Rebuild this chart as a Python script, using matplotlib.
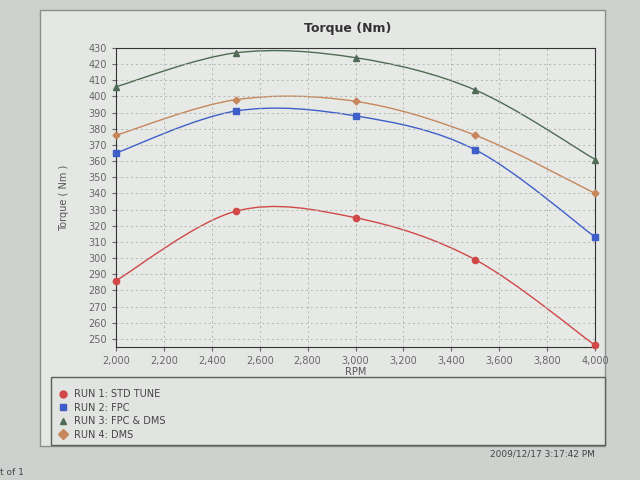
import numpy as np
import matplotlib
matplotlib.use('Agg')
import matplotlib.pyplot as plt
from matplotlib.path import Path
from matplotlib.patches import PathPatch, Rectangle
from matplotlib.lines import Line2D

rpm = [2000, 2500, 3000, 3500, 4000]
run1 = [286, 329, 325, 299, 246]
run2 = [365, 391, 388, 367, 313]
run3 = [406, 427, 424, 404, 361]
run4 = [376, 398, 397, 376, 340]
names = ['RUN 1: STD TUNE', 'RUN 2: FPC', 'RUN 3: FPC & DMS', 'RUN 4: DMS']
colors = ['#d04848', '#3f5fc8', '#4f6a55', '#c7865c']
markers = ['o', 's', '^', 'D']


def smooth_path(x, y):
    # catmull-rom style bezier through the points
    x = np.asarray(x, float)
    y = np.asarray(y, float)
    verts = [(x[0], y[0])]
    codes = [Path.MOVETO]
    n = len(x)
    for i in range(n - 1):
        x0, y0 = (x[i - 1], y[i - 1]) if i > 0 else (x[i], y[i])
        x3, y3 = (x[i + 2], y[i + 2]) if i + 2 < n else (x[i + 1], y[i + 1])
        c1 = (x[i] + (x[i + 1] - x0) / 6, y[i] + (y[i + 1] - y0) / 6)
        c2 = (x[i + 1] - (x3 - x[i]) / 6, y[i + 1] - (y3 - y[i]) / 6)
        verts += [c1, c2, (x[i + 1], y[i + 1])]
        codes += [Path.CURVE4] * 3
    return Path(verts, codes)


fig = plt.figure(figsize=(6.4, 4.8), dpi=100)
fig.patch.set_facecolor('#cdd2cf')
fig.patches.append(Rectangle((0.062, 0.07), 0.884, 0.91, transform=fig.transFigure,
                             facecolor='#e4e7e4', edgecolor='#8a8f8c', lw=1, zorder=-10))
fig.patches.append(Rectangle((0.08, 0.072), 0.866, 0.143, transform=fig.transFigure,
                             facecolor='#e1e4e1', edgecolor='#5a5f5c', lw=1, zorder=-9))

ax = fig.add_axes([0.181, 0.277, 0.749, 0.623])
ax.set_facecolor('#e6e9e6')
for xs, ys, c, m, lab in zip([rpm] * 4, [run1, run2, run3, run4], colors, markers, names):
    ax.add_patch(PathPatch(smooth_path(xs, ys), facecolor='none', edgecolor=c, lw=1))
    ax.plot(xs, ys, ls='none', marker=m, color=c, ms=4.5 if m != 'D' else 3.5, label=lab,
            clip_on=False, zorder=3)

ax.set_xlim(2000, 4000)
ax.set_ylim(245, 430)
ax.set_xticks(range(2000, 4001, 200))
ax.set_xticklabels([f'{v:,}' for v in range(2000, 4001, 200)])
ax.set_yticks(range(250, 431, 10))
ax.tick_params(labelsize=7, colors='#666666', length=3)
ax.grid(True, ls=(0, (2, 3)), color='#b4b8b5', lw=0.7)
for s in ax.spines.values():
    s.set_color('#333333')
ax.set_xlabel('RPM', fontsize=7, color='#555555', labelpad=1)
ax.set_ylabel('Torque ( Nm )', fontsize=7, color='#555555', labelpad=14)
fig.text(0.544, 0.94, 'Torque (Nm)', ha='center', va='center', fontsize=9,
         fontweight='bold', color='#333333')

handles = [Line2D([], [], ls='none', marker=m, color=c, ms=5) for c, m in zip(colors, markers)]
fig.legend(handles, names, loc='upper left', bbox_to_anchor=(0.075, 0.207),
           frameon=False, fontsize=7, labelspacing=0.35, handlelength=1.2,
           handletextpad=0.6, labelcolor='#444444')

fig.text(0.93, 0.055, '2009/12/17 3:17:42 PM', ha='right', va='center', fontsize=6.5, color='#444444')
fig.text(0.0, 0.015, 't of 1', ha='left', va='center', fontsize=6.5, color='#444444')

fig.savefig('out.png', dpi=100, facecolor=fig.get_facecolor())
